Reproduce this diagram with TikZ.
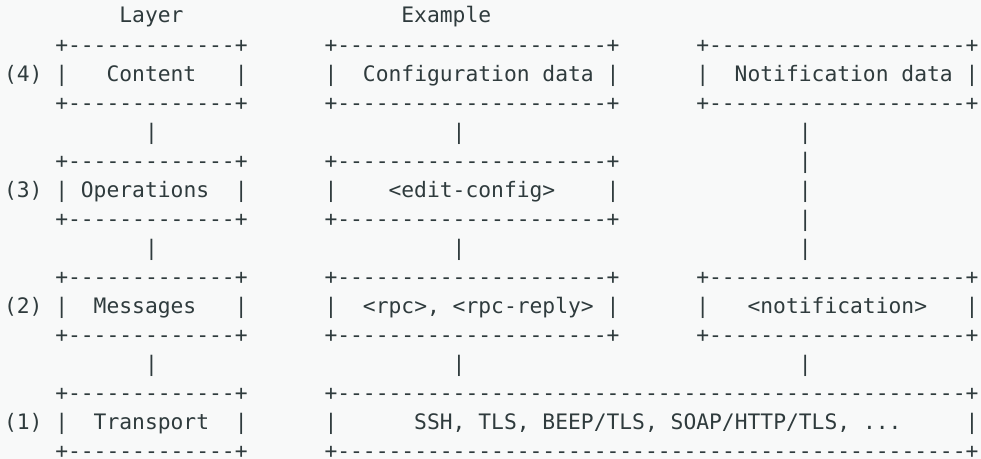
\documentclass[tikz,border=0pt]{standalone}
\usepackage{fontspec}
\setmonofont{DejaVu Sans Mono}
\definecolor{ink}{HTML}{2F3B3D}
\definecolor{paper}{HTML}{F8F9F9}
\ExplSyntaxOn
% a run of n hyphens, kept apart so no ligature can join them
\NewDocumentCommand\dashrun{m}{\prg_replicate:nn{#1}{-\kern0pt}}
\ExplSyntaxOff
\newcommand\edgerow[1]{+\dashrun{#1}+}
\tikzset{
  ascii/.style={anchor=base west, inner sep=0pt, outer sep=0pt, text=ink,
    font=\ttfamily\fontsize{10.65}{12}\selectfont}
}
% place text at column #2, row #3 of the character grid
\newcommand\seg[4]{\node[ascii] (#1) at ({4+#2*12.82},{23+#3*29.05}) {#4};}
\begin{document}
\begin{tikzpicture}[x=0.5pt,y=-0.5pt]
\fill[paper] (0,0) rectangle (981,459);
\useasboundingbox (0,0) rectangle (981,459);
% headings
\seg{hLayer}{9}{0}{Layer}
\seg{hExample}{31}{0}{Example}
% layer 4
\seg{a1l}{4}{1}{\edgerow{13}}
\seg{a1m}{25}{1}{\edgerow{21}}
\seg{a1r}{54}{1}{\edgerow{20}}
\seg{n4}{0}{2}{(4)}
\seg{a2p1}{4}{2}{|}
\seg{content}{8}{2}{Content}
\seg{a2p2}{18}{2}{|}
\seg{a2p3}{25}{2}{|}
\seg{confdata}{28}{2}{Configuration data}
\seg{a2p4}{47}{2}{|}
\seg{a2p5}{54}{2}{|}
\seg{notifdata}{57}{2}{Notification data}
\seg{a2p6}{75}{2}{|}
\seg{a3l}{4}{3}{\edgerow{13}}
\seg{a3m}{25}{3}{\edgerow{21}}
\seg{a3r}{54}{3}{\edgerow{20}}
% links 4 -> 3
\seg{a4l}{11}{4}{|}
\seg{a4m}{35}{4}{|}
\seg{a4r}{62}{4}{|}
% layer 3
\seg{b1l}{4}{5}{\edgerow{13}}
\seg{b1m}{25}{5}{\edgerow{21}}
\seg{b1r}{62}{5}{|}
\seg{n3}{0}{6}{(3)}
\seg{b2p1}{4}{6}{|}
\seg{operations}{6}{6}{Operations}
\seg{b2p2}{18}{6}{|}
\seg{b2p3}{25}{6}{|}
\seg{editconfig}{30}{6}{<edit-config>}
\seg{b2p4}{47}{6}{|}
\seg{b2r}{62}{6}{|}
\seg{b3l}{4}{7}{\edgerow{13}}
\seg{b3m}{25}{7}{\edgerow{21}}
\seg{b3r}{62}{7}{|}
% links 3 -> 2
\seg{b4l}{11}{8}{|}
\seg{b4m}{35}{8}{|}
\seg{b4r}{62}{8}{|}
% layer 2
\seg{c1l}{4}{9}{\edgerow{13}}
\seg{c1m}{25}{9}{\edgerow{21}}
\seg{c1r}{54}{9}{\edgerow{20}}
\seg{n2}{0}{10}{(2)}
\seg{c2p1}{4}{10}{|}
\seg{messages}{7}{10}{Messages}
\seg{c2p2}{18}{10}{|}
\seg{c2p3}{25}{10}{|}
\seg{rpc}{28}{10}{<rpc>, <rpc-reply>}
\seg{c2p4}{47}{10}{|}
\seg{c2p5}{54}{10}{|}
\seg{notification}{58}{10}{<notification>}
\seg{c2p6}{75}{10}{|}
\seg{c3l}{4}{11}{\edgerow{13}}
\seg{c3m}{25}{11}{\edgerow{21}}
\seg{c3r}{54}{11}{\edgerow{20}}
% links 2 -> 1
\seg{c4l}{11}{12}{|}
\seg{c4m}{35}{12}{|}
\seg{c4r}{62}{12}{|}
% layer 1
\seg{d1l}{4}{13}{\edgerow{13}}
\seg{d1m}{25}{13}{\edgerow{49}}
\seg{n1}{0}{14}{(1)}
\seg{d2p1}{4}{14}{|}
\seg{transport}{7}{14}{Transport}
\seg{d2p2}{18}{14}{|}
\seg{d2p3}{25}{14}{|}
\seg{protocols}{32}{14}{SSH, TLS, BEEP/TLS, SOAP/HTTP/TLS, ...}
\seg{d2p4}{75}{14}{|}
\seg{d3l}{4}{15}{\edgerow{13}}
\seg{d3m}{25}{15}{\edgerow{49}}
\end{tikzpicture}
\end{document}
